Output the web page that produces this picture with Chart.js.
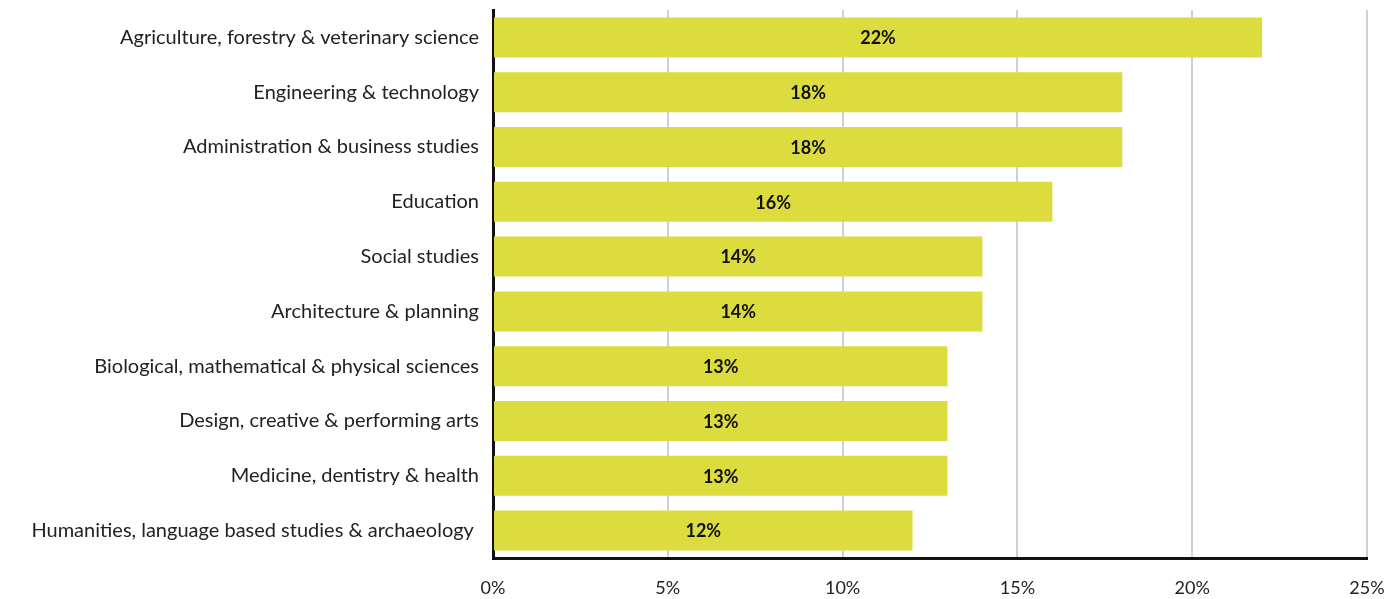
<!DOCTYPE html>
<html>
<head>
<meta charset="utf-8">
<script src="https://cdn.jsdelivr.net/npm/chart.js@4"></script>
<style>
  html, body { margin: 0; padding: 0; background: #fff; }
  #wrap { width: 1392px; height: 599px; }
</style>
</head>
<body>
<div id="wrap"><canvas id="myChart"></canvas></div>
<script>
// subject areas and their share (%)
const subjects = [
    'Agriculture, forestry & veterinary science',
    'Engineering & technology',
    'Administration & business studies',
    'Education',
    'Social studies',
    'Architecture & planning',
    'Biological, mathematical & physical sciences',
    'Design, creative & performing arts',
    'Medicine, dentistry & health',
    'Humanities, language based studies & archaeology '
];
const shares = [22, 18, 18, 16, 14, 14, 13, 13, 13, 12];
const xTicks = [0, 5, 10, 15, 20, 25];

// labels in the middle of each bar
const barLabels = {
    id: 'barLabels',
    afterDatasetsDraw(chart) {
        const ctx = chart.ctx;
        const meta = chart.getDatasetMeta(0);
        ctx.save();
        ctx.font = 'bold 18px Lato';
        ctx.fillStyle = '#111';
        ctx.textAlign = 'center';
        ctx.textBaseline = 'middle';
        meta.data.forEach((bar, i) => {
            const p = bar.getProps(['x', 'y', 'base'], true);
            ctx.fillText(shares[i] + '%', (p.x + p.base) / 2, p.y + 1);
        });
        ctx.restore();
    }
};

const config = {
    type: 'bar',
    data: {
        labels: subjects,
        datasets: [{
            data: shares,
            backgroundColor: '#dcdc3e',
            borderWidth: 0,
            barPercentage: 0.73,
            categoryPercentage: 1.0
        }]
    },
    options: {
        indexAxis: 'y',
        responsive: true,
        maintainAspectRatio: false,
        animation: false,
        layout: { padding: { top: 10, right: 25, left: 0, bottom: 0 } },
        plugins: {
            legend: { display: false },
            tooltip: { enabled: false }
        },
        scales: {
            x: {
                min: 0,
                max: 25,
                afterBuildTicks: (scale) => { scale.ticks = xTicks.map(v => ({ value: v })); },
                afterFit: (scale) => {
                    scale.height = 41;
                    scale.paddingLeft = 0;
                    scale.paddingRight = 0;
                },
                grid: { color: '#c8d2dc', lineWidth: 2, drawTicks: false },
                border: { color: '#111', width: 3 },
                ticks: {
                    padding: 19,
                    color: '#222',
                    font: { family: 'Lato', size: 18 },
                    callback: (v) => v + '%'
                }
            },
            y: {
                afterFit: (scale) => {
                    scale.width = 493;
                    scale.paddingTop = 0;
                    scale.paddingBottom = 0;
                },
                grid: { display: false, drawTicks: false },
                border: { color: '#111', width: 3 },
                ticks: {
                    padding: 14,
                    color: '#222',
                    font: { family: 'Lato', size: 20 }
                }
            }
        }
    },
    plugins: [barLabels]
};

new Chart(document.querySelector('#myChart').getContext('2d'), config);
</script>
</body>
</html>
